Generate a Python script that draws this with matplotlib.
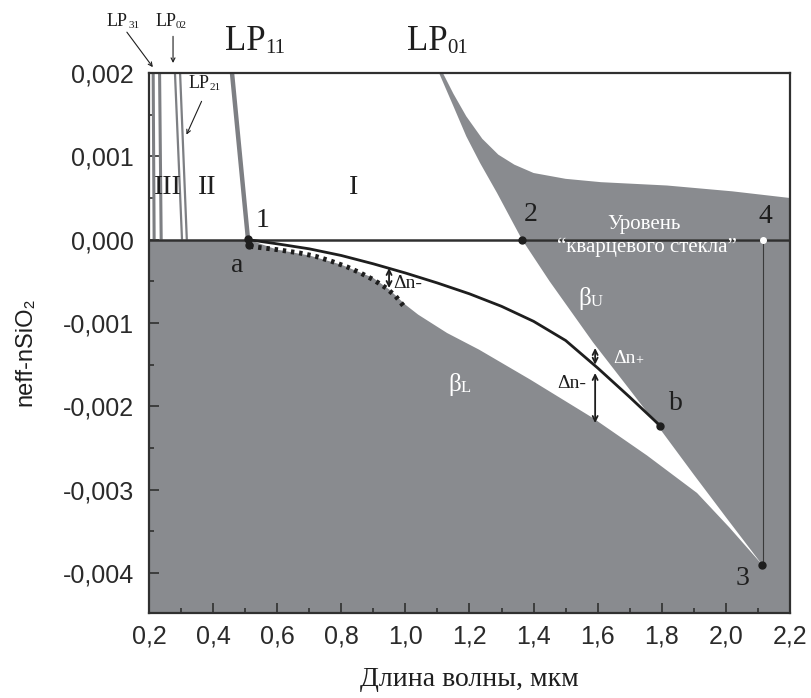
import numpy as np
import matplotlib
matplotlib.use('Agg')
import matplotlib.pyplot as plt
from matplotlib.ticker import MultipleLocator

SERIF = ['Liberation Serif', 'DejaVu Serif']
SANS = ['Liberation Sans', 'DejaVu Sans']
GRAY = '#898b8f'
DARK = '#1e1e1e'

# axis ticks
x_ticks = [0.2, 0.4, 0.6, 0.8, 1.0, 1.2, 1.4, 1.6, 1.8, 2.0, 2.2]
x_tick_labels = ['0,2', '0,4', '0,6', '0,8', '1,0', '1,2', '1,4', '1,6', '1,8', '2,0', '2,2']
y_ticks = [0.002, 0.001, 0.0, -0.001, -0.002, -0.003, -0.004]
y_tick_labels = ['0,002', '0,001', '0,000', '-0,001', '-0,002', '-0,003', '-0,004']

# lower boundary of the white wedge (beta_L)
beta_L_x = [0.51, 0.60, 0.70, 0.80, 0.90, 0.95, 1.00, 1.04, 1.13, 1.23, 1.39, 1.585, 1.754, 1.91, 2.01, 2.113]
beta_L_y = [0.0, -0.00012, -0.00019, -0.0003, -0.00046, -0.0006, -0.00078, -0.0009, -0.00112,
            -0.00132, -0.00168, -0.00214, -0.00259, -0.00304, -0.00345, -0.0039]

# beta_U, from the top of the plot through point 2 down to point 3
beta_U_x = [1.105, 1.15, 1.19, 1.233, 1.286, 1.336, 1.364, 1.45, 1.585, 1.70, 1.80, 1.90, 2.00, 2.113]
beta_U_y = [0.002, 0.0016, 0.00124, 0.00092, 0.00056, 0.0002, 0.0, -0.0005, -0.00123, -0.0018,
            -0.0023, -0.00282, -0.00333, -0.0039]

# upper edge of the LP01 gray band
lp01_top_x = [1.117, 1.15, 1.19, 1.24, 1.29, 1.34, 1.40, 1.50, 1.61, 1.816, 2.02, 2.2]
lp01_top_y = [0.002, 0.00175, 0.00148, 0.00121, 0.00102, 0.0009, 0.0008, 0.00073, 0.00069,
              0.00065, 0.00058, 0.0005]

# solid curve a -> b
curve_x = [0.51, 0.60, 0.70, 0.80, 0.90, 1.00, 1.10, 1.20, 1.30, 1.40, 1.50, 1.60, 1.70, 1.794]
curve_y = [0.0, -0.00005, -0.00011, -0.00019, -0.00029, -0.0004, -0.00052, -0.00065, -0.0008,
           -0.00098, -0.00121, -0.00154, -0.00189, -0.00223]

# dotted curve
dots_x = [0.515, 0.60, 0.67, 0.72, 0.77, 0.82, 0.86, 0.90, 0.94, 0.97, 0.995]
dots_y = [-0.00008, -0.00012, -0.00016, -0.0002, -0.00026, -0.00033, -0.0004, -0.00048, -0.00058,
          -0.00068, -0.0008]

# cutoff lines of the higher modes (x at top, x at y=0)
cut_top_x = [0.213, 0.233, 0.281, 0.297, 0.459]
cut_bot_x = [0.216, 0.238, 0.303, 0.318, 0.509]

fig = plt.figure(figsize=(8.11, 6.98), dpi=100)
ax = fig.add_axes([149 / 811, 85 / 698, 641 / 811, 540 / 698])
ax.set_xlim(0.2, 2.2)
ax.set_ylim(-0.00448, 0.002)

# gray below the silica level, white wedge between beta_L and beta_U
ax.axhspan(-0.00448, 0, color=GRAY, lw=0, zorder=1)
bu_x = np.array(beta_U_x)
bu_y = np.array(beta_U_y)
low = bu_y <= 0
ax.fill(np.r_[beta_L_x, bu_x[low][::-1]], np.r_[beta_L_y, bu_y[low][::-1]], color='white', lw=0, zorder=2)

# LP01 gray band above zero
up = bu_y >= 0
ax.fill(np.r_[bu_x[up], [2.2], lp01_top_x[::-1]], np.r_[bu_y[up], [0.0], lp01_top_y[::-1]],
        color=GRAY, lw=0, zorder=2)

# mode cutoff lines
for xt, xb, lw in zip(cut_top_x, cut_bot_x, [2.2, 2.2, 1.6, 1.6, 3.2]):
    ax.plot([xt, xb], [0.002, 0.0], color='#7d7f83', lw=lw, zorder=3, solid_capstyle='butt')

ax.axhline(0, color='#303030', lw=1.8, zorder=4)
ax.plot([2.115, 2.115], [0.0, -0.0039], color='#3a3a3a', lw=0.8, zorder=4)

ax.plot(curve_x, curve_y, color=DARK, lw=2, zorder=5)
ax.plot(dots_x, dots_y, color=DARK, lw=3.5, ls=(0, (0.7, 1.0)), zorder=5)

for px, py in [(0.509, 0.00001), (0.511, -0.00006), (1.364, 0.0), (1.794, -0.00223), (2.113, -0.0039)]:
    ax.plot(px, py, 'o', color=DARK, ms=5, zorder=6)
ax.plot(2.115, 0.0, 'o', color='white', ms=4, zorder=6)

# double arrows
arr = dict(arrowstyle='<->', color=DARK, lw=1.3, shrinkA=0, shrinkB=0, mutation_scale=9)
for xa, y0, y1 in [(0.949, -0.00034, -0.00058), (1.592, -0.0013, -0.0015), (1.592, -0.0016, -0.0022)]:
    ax.annotate('', xy=(xa, y1), xytext=(xa, y0), arrowprops=arr, zorder=6)


def sub_text(x, y, main, sub, size, subsize, color=DARK):
    t = ax.text(x, y, main, fontsize=size, color=color, family=SERIF, ha='left', va='center', zorder=7)
    ax.annotate(sub, xy=(1, 0), xycoords=t, fontsize=subsize, color=color, family=SERIF,
                ha='left', va='bottom', zorder=7, annotation_clip=False)
    return t


sub_text(0.437, 0.00238, 'LP', '11', 25, 15)
sub_text(1.005, 0.00238, 'LP', '01', 25, 15)
sub_text(0.069, 0.00262, 'LP', '31', 13, 8)
sub_text(0.219, 0.00262, 'LP', '02', 13, 8)
sub_text(0.322, 0.00188, 'LP', '21', 13, 8)

small_arr = dict(arrowstyle='->', color=DARK, lw=0.8, shrinkA=0, shrinkB=0, mutation_scale=7)
ax.annotate('', xy=(0.212, 0.00207), xytext=(0.131, 0.00249), arrowprops=small_arr, annotation_clip=False)
ax.annotate('', xy=(0.275, 0.00212), xytext=(0.275, 0.00244), arrowprops=small_arr, annotation_clip=False)
ax.annotate('', xy=(0.317, 0.00126), xytext=(0.364, 0.00166), arrowprops=small_arr)

sub_text(1.539, -0.0007, 'β', 'U', 18, 12, 'white')
sub_text(1.133, -0.00174, 'β', 'L', 18, 12, 'white')
sub_text(1.648, -0.00143, 'Δn', '+', 14, 10, 'white')
ax.text(1.473, -0.00172, 'Δn-', fontsize=14, family=SERIF, color=DARK, va='center', zorder=7)
ax.text(0.961, -0.00052, 'Δn-', fontsize=14, family=SERIF, color=DARK, va='center', zorder=7)

for s, x, y in [('III', 0.26, 0.00062), ('II', 0.381, 0.00062), ('I', 0.837, 0.00062),
                ('1', 0.553, 0.00023), ('2', 1.392, 0.0003), ('a', 0.475, -0.00031),
                ('b', 1.845, -0.00197), ('3', 2.053, -0.00407), ('4', 2.122, 0.00028)]:
    ax.text(x, y, s, fontsize=20, family=SERIF, color=DARK, ha='center', va='center', zorder=7)

ax.text(1.745, 0.00018, 'Уровень', fontsize=15, family=SERIF, color='white', ha='center', va='center', zorder=7)
ax.text(1.754, -0.00009, '“кварцевого стекла”', fontsize=15, family=SERIF, color='white',
        ha='center', va='center', zorder=7)

ax.set_xticks(x_ticks)
ax.set_xticklabels(x_tick_labels)
ax.set_yticks(y_ticks)
ax.set_yticklabels(y_tick_labels)
ax.xaxis.set_minor_locator(MultipleLocator(0.1))
ax.yaxis.set_minor_locator(MultipleLocator(0.0005))
ax.tick_params(which='both', direction='in', color='#303030', width=1.2, labelsize=18, labelcolor='#2a2a2a')
ax.tick_params(which='major', length=7)
ax.tick_params(which='minor', length=3.5)
ax.tick_params(axis='x', pad=8)
ax.tick_params(axis='y', pad=11)
for lab in ax.get_xticklabels() + ax.get_yticklabels():
    lab.set_family(SANS)
for sp in ax.spines.values():
    sp.set_color('#303030')
    sp.set_linewidth(1.6)
    sp.set_zorder(8)

fig.text(469 / 811, 1 - 680 / 698, 'Длина волны, мкм', fontsize=20, family=SERIF, color=DARK,
         ha='center', va='center')
fig.text(25 / 811, 1 - 352 / 698, 'neff-nSiO₂', fontsize=17, family=SANS, color=DARK,
         rotation=90, ha='center', va='center')

fig.savefig('out.png', dpi=100)
